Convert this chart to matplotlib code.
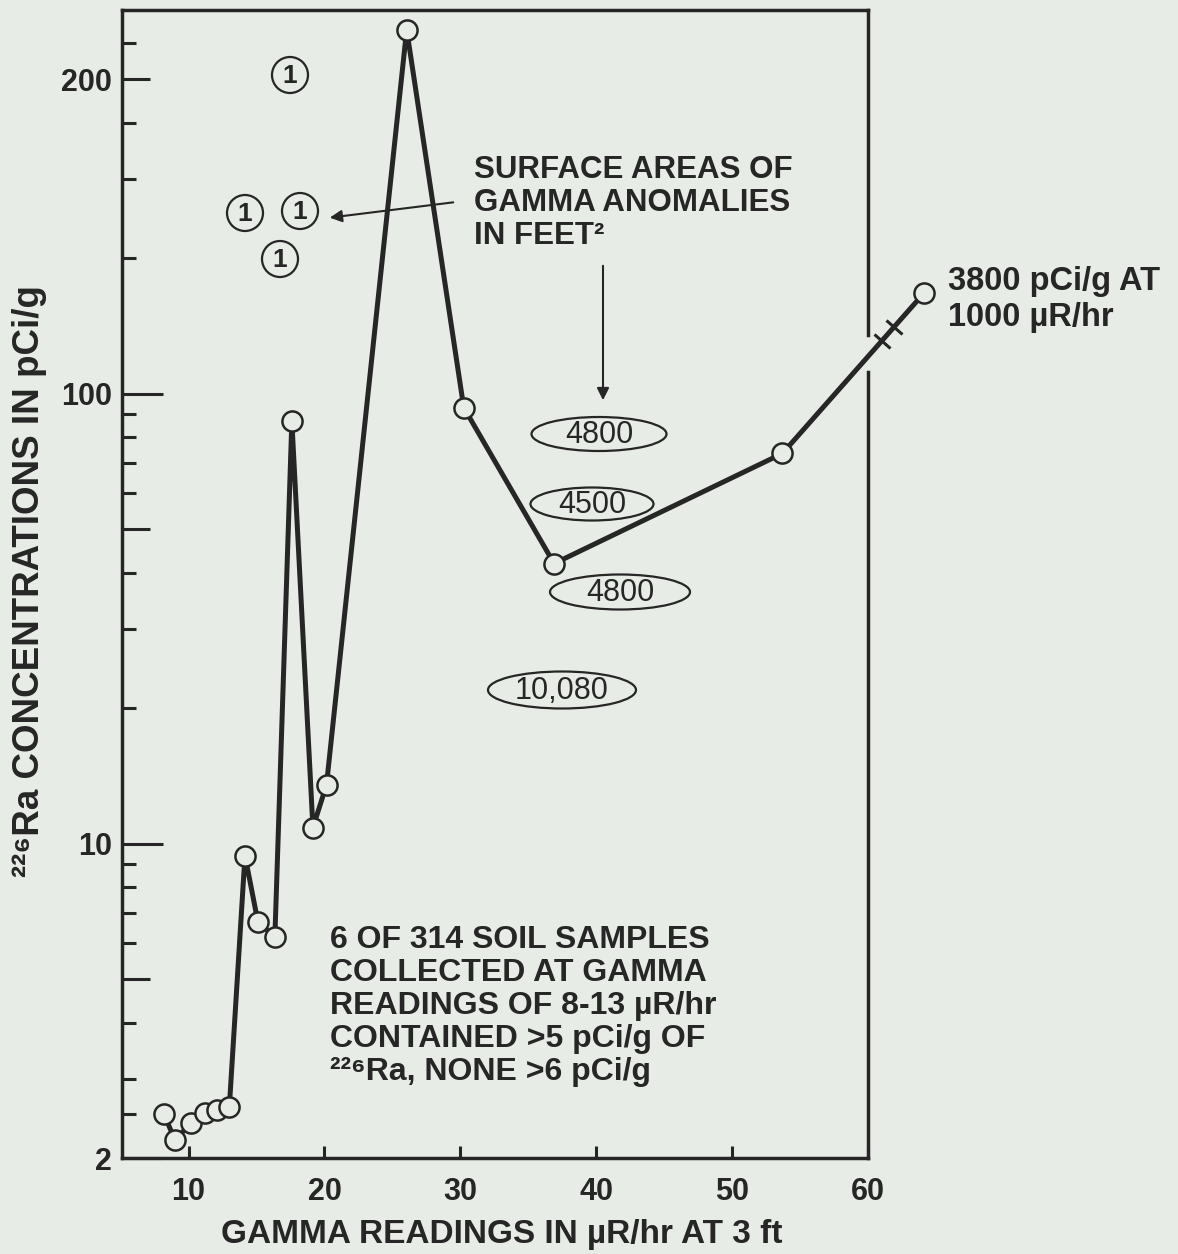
import numpy as np
import matplotlib
matplotlib.use("Agg")
import matplotlib.pyplot as plt
from matplotlib.patches import Ellipse
from matplotlib.markers import MarkerStyle
from matplotlib.transforms import Affine2D

# gamma reading at 3 ft (uR/hr) vs Ra-226 in soil (pCi/g)
gamma = [8.2, 9.0, 10.15, 11.2, 12.1, 13.0, 14.15, 15.1, 16.35, 17.6,
         19.15, 20.15, 26.05, 30.25, 36.9, 53.7]
radium = [2.50, 2.19, 2.39, 2.52, 2.56, 2.60, 9.4, 6.7, 6.2, 86.8,
          10.85, 13.5, 236, 93.1, 41.9, 73.6]

# 3800 pCi/g at 1000 uR/hr, drawn just past the axis break
offscale_gamma = 64.15
offscale_radium = 116.9

x_ticks = [10, 20, 30, 40, 50, 60]
y_ticks = [2, 10, 100, 200]
y_minor = [2.5, 3, 4, 5, 6, 7, 8, 9, 20, 30, 40, 50, 60, 70, 80, 90,
           125, 150, 175, 225]
y_mid = [5, 50]

area_labels = ["4800", "4500", "4800", "10,080"]

BG = "#e8ece6"
INK = "#262626"
W, H = 1178, 1254

plt.rcParams["font.family"] = ["Liberation Sans", "DejaVu Sans"]
plt.rcParams["font.weight"] = "bold"

K = 4.0  # stretch of the scale above 100


def fwd(y):
    y = np.clip(np.asarray(y, dtype=float), 1e-3, None)
    hi = np.log10(np.maximum(100 + (y - 100) * K, 1e-3))
    return np.where(y <= 100, np.log10(y), hi)


def inv(u):
    v = 10 ** np.asarray(u, dtype=float)
    return np.where(v <= 100, v, 100 + (v - 100) / K)


def px(x, y):
    # figure pixel (from top-left) -> figure fraction
    return x / W, 1 - y / H


fig = plt.figure(figsize=(W / 100, H / 100), dpi=100)
fig.patch.set_facecolor(BG)
ax = fig.add_axes([122 / W, 1 - 1158 / H, 746 / W, 1148 / H])
ax.set_facecolor(BG)

ax.set_yscale("function", functions=(fwd, inv))
ax.set_xlim(5.1, 60)
ax.set_ylim(2, 253)

ax.set_xticks(x_ticks)
ax.set_yticks(y_ticks)
ax.set_yticklabels([str(v) for v in y_ticks])
ax.set_yticks(y_minor, minor=True)
ax.yaxis.set_minor_formatter(matplotlib.ticker.NullFormatter())

for s in ["left", "top", "bottom"]:
    ax.spines[s].set_linewidth(2.5)
    ax.spines[s].set_color(INK)
ax.spines["right"].set_visible(False)
# right border, interrupted where the line breaks out
ax.plot([1, 1], [1, (1158 - 335) / 1148], transform=ax.transAxes,
        color=INK, lw=2.5, clip_on=False, solid_capstyle="projecting")
ax.plot([1, 1], [(1158 - 372) / 1148, 0], transform=ax.transAxes,
        color=INK, lw=2.5, clip_on=False, solid_capstyle="projecting")

ax.tick_params(axis="y", which="major", direction="in", length=29.5,
               width=2.2, color=INK, labelsize=22, pad=7, labelcolor=INK)
ax.tick_params(axis="y", which="minor", direction="in", length=10,
               width=2.2, color=INK)
ax.tick_params(axis="x", which="major", direction="in", length=9,
               width=2.2, color=INK, labelsize=22, pad=14, labelcolor=INK)
ax.tick_params(axis="x", which="minor", bottom=False)

for t, v in zip(ax.yaxis.get_major_ticks(), y_ticks):
    if v == 200:
        t.tick1line.set_markersize(20)
for t, v in zip(ax.yaxis.get_minor_ticks(), y_minor):
    if v in y_mid:
        t.tick1line.set_markersize(20)

# data line with the off-scale end point
xs = gamma + [offscale_gamma]
ys = radium + [offscale_radium]
ax.plot(xs, ys, color=INK, lw=3.6, clip_on=False, zorder=3)
ax.plot(xs, ys, ls="none", marker="o", ms=14.5, mfc=BG, mec=INK, mew=1.8,
        clip_on=False, zorder=4)

# break marks across the last segment
p0 = ax.transData.transform((gamma[-1], radium[-1]))
p1 = ax.transData.transform((offscale_gamma, offscale_radium))
ang = np.degrees(np.arctan2(p1[1] - p0[1], p1[0] - p0[0])) + 90
mk = MarkerStyle("_", transform=Affine2D().rotate_deg(ang))
for t in [0.70, 0.785]:
    bx, by = ax.transData.inverted().transform(p0 + t * (p1 - p0))
    ax.plot([bx], [by], ls="none", marker=mk, ms=16, mew=2.2, mec=INK,
            clip_on=False, zorder=5)

fig.text(*px(502, 1234), "GAMMA READINGS IN \u00b5R/hr AT 3 ft", fontsize=24,
         color=INK, ha="center", va="center")
fig.text(*px(30, 581), "\u00b2\u00b2\u2076Ra CONCENTRATIONS IN pCi/g",
         rotation=90, fontsize=26.5, color=INK, ha="center", va="center")

# circled "1" symbols
for cx, cy in [(290, 75), (245, 213), (300, 211), (280, 259)]:
    fig.add_artist(Ellipse(px(cx, cy), 36 / W, 36 / H, transform=fig.transFigure,
                           fc="none", ec=INK, lw=1.6))
    fig.text(*px(cx, cy + 1), "1", fontsize=19, color=INK,
             ha="center", va="center")

fig.text(*px(474, 170), "SURFACE AREAS OF", fontsize=22.5, color=INK, va="center")
fig.text(*px(474, 203), "GAMMA ANOMALIES", fontsize=22.5, color=INK, va="center")
fig.text(*px(474, 236), "IN FEET\u00b2", fontsize=22.5, color=INK, va="center")

ax.annotate("", xy=px(327, 218), xytext=px(456, 202),
            xycoords="figure fraction", textcoords="figure fraction",
            arrowprops=dict(arrowstyle="-|>", color=INK, lw=1.5,
                            mutation_scale=18))
ax.annotate("", xy=px(603, 403), xytext=px(603, 263),
            xycoords="figure fraction", textcoords="figure fraction",
            arrowprops=dict(arrowstyle="-|>", color=INK, lw=1.5,
                            mutation_scale=18))

# ellipses with anomaly areas
ell = [(599, 434, 135, 34), (592, 504, 123, 33), (620, 592, 140, 35),
       (562, 690, 148, 37)]
for (cx, cy, ew, eh), lab in zip(ell, area_labels):
    fig.add_artist(Ellipse(px(cx, cy), ew / W, eh / H, transform=fig.transFigure,
                           fc="none", ec=INK, lw=1.6))
    fig.text(*px(cx, cy + 1), lab, fontsize=22, fontweight="normal",
             color=INK, ha="center", va="center")

fig.text(*px(948, 282), "3800 pCi/g AT", fontsize=23.5, color=INK, va="center")
fig.text(*px(948, 317), "1000 \u00b5R/hr", fontsize=23.5, color=INK, va="center")

notes = ["6 OF 314 SOIL SAMPLES", "COLLECTED AT GAMMA",
         "READINGS OF 8-13 \u00b5R/hr", "CONTAINED >5 pCi/g OF",
         "\u00b2\u00b2\u2076Ra, NONE >6 pCi/g"]
for i, line in enumerate(notes):
    fig.text(*px(330, 940 + 33 * i), line, fontsize=23, color=INK, va="center")

fig.savefig("out.png", dpi=100, facecolor=BG)
